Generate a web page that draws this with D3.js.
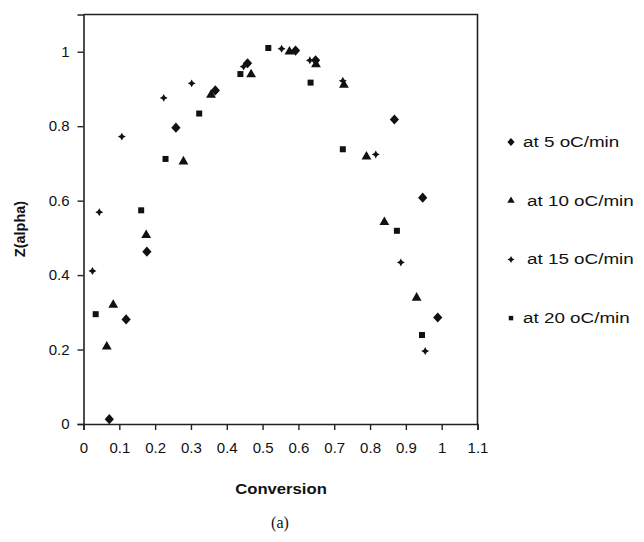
<!DOCTYPE html>
<html>
<head>
<meta charset="utf-8">
<script src="https://cdn.jsdelivr.net/npm/d3@7"></script>
<style>
  body { margin: 0; background: #fff; }
  text { font-family: "Liberation Sans", Arial, sans-serif; fill: #111; }
</style>
</head>
<body>
<div id="chart"></div>
<script>
// data
var seriesNames = ['at 5 oC/min', 'at 10 oC/min', 'at 15 oC/min', 'at 20 oC/min'];
var rate5 = [
  [0.072, 0.013], [0.119, 0.281], [0.177, 0.463], [0.258, 0.796], [0.368, 0.896],
  [0.458, 0.969], [0.592, 1.003], [0.648, 0.977], [0.868, 0.818], [0.947, 0.608],
  [0.989, 0.286]
];
var rate10 = [
  [0.065, 0.208], [0.083, 0.320], [0.175, 0.507], [0.279, 0.705], [0.356, 0.884],
  [0.468, 0.939], [0.575, 1.000], [0.649, 0.966], [0.727, 0.911], [0.790, 0.718],
  [0.840, 0.542], [0.930, 0.339]
];
var rate15 = [
  [0.025, 0.411], [0.044, 0.569], [0.107, 0.772], [0.224, 0.876], [0.302, 0.915],
  [0.447, 0.960], [0.553, 1.008], [0.632, 0.977], [0.724, 0.922], [0.816, 0.724],
  [0.886, 0.434], [0.954, 0.196]
];
var rate20 = [
  [0.034, 0.295], [0.161, 0.574], [0.229, 0.712], [0.323, 0.834], [0.438, 0.940],
  [0.516, 1.010], [0.634, 0.917], [0.724, 0.738], [0.875, 0.519], [0.945, 0.239]
];
var xTicks = [0, 0.1, 0.2, 0.3, 0.4, 0.5, 0.6, 0.7, 0.8, 0.9, 1, 1.1];
var yTicks = [0, 0.2, 0.4, 0.6, 0.8, 1];

var width = 644, height = 542;
var plot = { left: 83.5, right: 477.5, top: 14.5, bottom: 424 };

var svg = d3.select('#chart').append('svg')
  .attr('width', width)
  .attr('height', height);

var x = d3.scaleLinear().domain([0, 1.1]).range([plot.left, plot.right]);
var y = d3.scaleLinear().domain([0, 1.1]).range([plot.bottom, plot.top]);

// frame: top and right edges
svg.append('path')
  .attr('d', 'M' + plot.left + ',' + plot.top + 'H' + plot.right + 'V' + plot.bottom)
  .attr('fill', 'none')
  .attr('stroke', '#222')
  .attr('stroke-width', 1.6);

// axes
var fmt = d3.format('~g');
var xAxis = svg.append('g')
  .attr('transform', 'translate(0,' + plot.bottom + ')')
  .call(d3.axisBottom(x).tickValues(xTicks).tickSize(6).tickPadding(12).tickFormat(fmt));
var yAxis = svg.append('g')
  .attr('transform', 'translate(' + plot.left + ',0)')
  .call(d3.axisLeft(y).tickValues(yTicks).tickSize(6).tickPadding(8).tickFormat(fmt));

[xAxis, yAxis].forEach(function (ax) {
  ax.select('.domain').attr('stroke', '#222').attr('stroke-width', 1.6);
  ax.selectAll('.tick line').attr('stroke', '#222').attr('stroke-width', 1.4);
  ax.selectAll('.tick text')
    .attr('font-size', '15px')
    .attr('font-family', '"Liberation Sans", Arial, sans-serif')
    .attr('fill', '#111');
});

// axis titles
svg.append('text')
  .attr('transform', 'translate(281,494) scale(1.15,1)')
  .attr('text-anchor', 'middle')
  .attr('font-size', '14.5px')
  .attr('font-weight', 'bold')
  .text('Conversion');

svg.append('text')
  .attr('transform', 'translate(25,229) rotate(-90)')
  .attr('text-anchor', 'middle')
  .attr('font-size', '14.5px')
  .attr('font-weight', 'bold')
  .text('Z(alpha)');

svg.append('text')
  .attr('x', 280)
  .attr('y', 528)
  .attr('text-anchor', 'middle')
  .attr('font-size', '16px')
  .style('font-family', '"Liberation Serif", "DejaVu Serif", serif')
  .text('(a)');

// marker shapes
var star4 = {
  draw: function (ctx, size) {
    var r = Math.sqrt(size) * 0.75, s = r * 0.35;
    ctx.moveTo(0, -r);
    ctx.lineTo(s, -s);
    ctx.lineTo(r, 0);
    ctx.lineTo(s, s);
    ctx.lineTo(0, r);
    ctx.lineTo(-s, s);
    ctx.lineTo(-r, 0);
    ctx.lineTo(-s, -s);
    ctx.closePath();
  }
};
var rhombus = {
  draw: function (ctx, size) {
    var w = Math.sqrt(size) * 0.68, h = w * 1.1;
    ctx.moveTo(0, -h);
    ctx.lineTo(w, 0);
    ctx.lineTo(0, h);
    ctx.lineTo(-w, 0);
    ctx.closePath();
  }
};
var markers = [
  d3.symbol().type(rhombus).size(46),
  d3.symbol().type(d3.symbolTriangle).size(42),
  d3.symbol().type(star4).size(28),
  d3.symbol().type(d3.symbolSquare).size(36)
];
var legendMarkers = [
  d3.symbol().type(rhombus).size(28),
  d3.symbol().type(d3.symbolTriangle).size(24),
  d3.symbol().type(star4).size(22),
  d3.symbol().type(d3.symbolSquare).size(20)
];

var series = [rate5, rate10, rate15, rate20];
series.forEach(function (pts, i) {
  svg.append('g')
    .attr('class', 'series' + (i + 1))
    .selectAll('path')
    .data(pts)
    .enter()
    .append('path')
    .attr('transform', function (d) {
      return 'translate(' + x(d[0]) + ',' + y(d[1]) + ')';
    })
    .attr('d', markers[i])
    .attr('fill', '#111');
});

// legend
var legend = svg.append('g').attr('class', 'legend');
seriesNames.forEach(function (name, i) {
  var ly = 142 + i * 58.7;
  legend.append('path')
    .attr('transform', 'translate(511,' + ly + ')')
    .attr('d', legendMarkers[i])
    .attr('fill', '#111');
  legend.append('text')
    .attr('transform', 'translate(' + ((i === 1 || i === 2) ? 527 : 523) + ',' + (ly + 5) + ') scale(1.3,1)')
    .attr('font-size', '14.5px')
    .text(name);
});
</script>
</body>
</html>
